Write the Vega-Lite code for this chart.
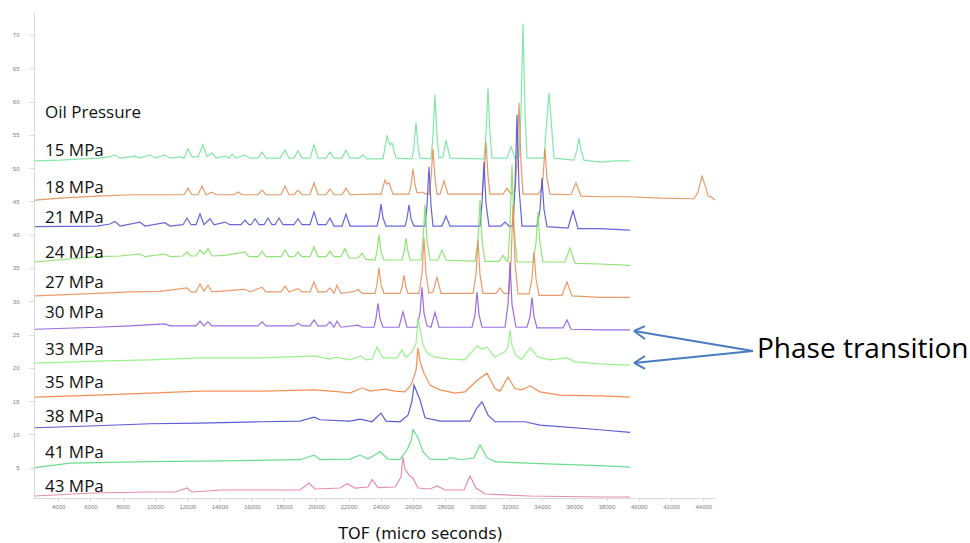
{
"$schema":"https://vega.github.io/schema/vega-lite/v6.json",
"width":681,"height":485,
"autosize":{"type":"none"},
"padding":{"left":34,"top":13,"right":255,"bottom":45},
"background":"white",
"config":{"view":{"stroke":null}},
"datasets":{
"spectra":[
{"s":"15","x":2562,"y":51.1},{"s":"15","x":4112,"y":51.2},{"s":"15","x":6406,"y":51.5},{"s":"15","x":7212,"y":51.7},{"s":"15","x":7522,"y":52.0},{"s":"15","x":7832,"y":51.5},{"s":"15","x":8762,"y":51.8},{"s":"15","x":9072,"y":51.5},{"s":"15","x":9692,"y":52.0},{"s":"15","x":10002,"y":51.5},{"s":"15","x":10622,"y":52.0},{"s":"15","x":10932,"y":51.5},{"s":"15","x":11552,"y":51.7},{"s":"15","x":11800,"y":51.5},{"s":"15","x":12048,"y":52.9},{"s":"15","x":12296,"y":51.7},{"s":"15","x":12668,"y":51.7},{"s":"15","x":12978,"y":53.5},{"s":"15","x":13226,"y":51.7},{"s":"15","x":13536,"y":52.3},{"s":"15","x":13784,"y":51.5},{"s":"15","x":14342,"y":51.8},{"s":"15","x":14590,"y":51.5},{"s":"15","x":14776,"y":52.1},{"s":"15","x":15024,"y":51.5},{"s":"15","x":15582,"y":52.0},{"s":"15","x":15892,"y":51.5},{"s":"15","x":16388,"y":51.5},{"s":"15","x":16636,"y":52.4},{"s":"15","x":16884,"y":51.5},{"s":"15","x":17752,"y":51.5},{"s":"15","x":18062,"y":52.7},{"s":"15","x":18310,"y":51.5},{"s":"15","x":18620,"y":51.5},{"s":"15","x":18868,"y":52.6},{"s":"15","x":19116,"y":51.5},{"s":"15","x":19612,"y":51.5},{"s":"15","x":19860,"y":53.5},{"s":"15","x":20108,"y":51.5},{"s":"15","x":20604,"y":51.5},{"s":"15","x":20852,"y":52.4},{"s":"15","x":21100,"y":51.5},{"s":"15","x":21596,"y":51.5},{"s":"15","x":21844,"y":52.7},{"s":"15","x":22092,"y":51.5},{"s":"15","x":22650,"y":51.5},{"s":"15","x":22898,"y":52.0},{"s":"15","x":23146,"y":51.4},{"s":"15","x":24138,"y":51.4},{"s":"15","x":24386,"y":54.8},{"s":"15","x":24572,"y":53.5},{"s":"15","x":24696,"y":53.8},{"s":"15","x":24944,"y":51.5},{"s":"15","x":25936,"y":51.4},{"s":"15","x":26184,"y":56.9},{"s":"15","x":26432,"y":51.5},{"s":"15","x":27114,"y":51.4},{"s":"15","x":27362,"y":61.0},{"s":"15","x":27610,"y":51.5},{"s":"15","x":27858,"y":51.7},{"s":"15","x":28044,"y":54.2},{"s":"15","x":28292,"y":51.5},{"s":"15","x":30400,"y":51.4},{"s":"15","x":30648,"y":62.0},{"s":"15","x":30896,"y":51.5},{"s":"15","x":31826,"y":51.5},{"s":"15","x":32074,"y":53.2},{"s":"15","x":32322,"y":51.5},{"s":"15","x":32570,"y":51.7},{"s":"15","x":32818,"y":71.7},{"s":"15","x":33066,"y":51.5},{"s":"15","x":34120,"y":51.5},{"s":"15","x":34430,"y":61.3},{"s":"15","x":34740,"y":51.5},{"s":"15","x":35980,"y":51.2},{"s":"15","x":36290,"y":54.5},{"s":"15","x":36600,"y":51.2},{"s":"15","x":37592,"y":50.9},{"s":"15","x":38522,"y":51.1},{"s":"15","x":39452,"y":51.1},
{"s":"15","x":26060,"y":53.3},{"s":"15","x":26308,"y":53.3},{"s":"15","x":27238,"y":54.8},{"s":"15","x":27486,"y":54.8},{"s":"15","x":30524,"y":55.2},{"s":"15","x":30772,"y":55.2},{"s":"15","x":32694,"y":58.6},{"s":"15","x":32942,"y":58.6},{"s":"15","x":34244,"y":55.5},{"s":"15","x":34616,"y":55.5},{"s":"15","x":36166,"y":52.7},{"s":"15","x":36414,"y":52.7},
{"s":"18","x":2562,"y":45.2},{"s":"18","x":4112,"y":45.5},{"s":"18","x":6406,"y":45.8},{"s":"18","x":8452,"y":46.0},{"s":"18","x":10312,"y":46.0},{"s":"18","x":11800,"y":46.0},{"s":"18","x":12048,"y":47.0},{"s":"18","x":12296,"y":46.0},{"s":"18","x":12668,"y":46.0},{"s":"18","x":12916,"y":47.3},{"s":"18","x":13164,"y":46.0},{"s":"18","x":13536,"y":46.4},{"s":"18","x":13784,"y":46.0},{"s":"18","x":14900,"y":46.0},{"s":"18","x":15148,"y":46.4},{"s":"18","x":15396,"y":46.0},{"s":"18","x":16388,"y":46.0},{"s":"18","x":16636,"y":46.7},{"s":"18","x":16884,"y":46.0},{"s":"18","x":17814,"y":46.0},{"s":"18","x":18062,"y":47.3},{"s":"18","x":18310,"y":46.0},{"s":"18","x":18620,"y":46.0},{"s":"18","x":18868,"y":46.7},{"s":"18","x":19116,"y":46.0},{"s":"18","x":19612,"y":46.0},{"s":"18","x":19860,"y":47.8},{"s":"18","x":20108,"y":46.0},{"s":"18","x":20604,"y":46.0},{"s":"18","x":20852,"y":46.9},{"s":"18","x":21100,"y":46.0},{"s":"18","x":21596,"y":46.0},{"s":"18","x":21844,"y":47.0},{"s":"18","x":22092,"y":46.0},{"s":"18","x":23332,"y":46.1},{"s":"18","x":24014,"y":46.1},{"s":"18","x":24262,"y":48.2},{"s":"18","x":24386,"y":47.6},{"s":"18","x":24510,"y":47.8},{"s":"18","x":24758,"y":46.1},{"s":"18","x":25750,"y":46.1},{"s":"18","x":26000,"y":49.9},{"s":"18","x":26248,"y":46.3},{"s":"18","x":26556,"y":46.4},{"s":"18","x":26804,"y":46.1},{"s":"18","x":26990,"y":46.1},{"s":"18","x":27238,"y":52.9},{"s":"18","x":27486,"y":46.1},{"s":"18","x":27672,"y":46.1},{"s":"18","x":27920,"y":48.1},{"s":"18","x":28168,"y":46.1},{"s":"18","x":30276,"y":46.1},{"s":"18","x":30524,"y":53.9},{"s":"18","x":30772,"y":46.1},{"s":"18","x":31578,"y":46.1},{"s":"18","x":31826,"y":47.0},{"s":"18","x":32074,"y":46.1},{"s":"18","x":32322,"y":46.7},{"s":"18","x":32570,"y":59.8},{"s":"18","x":32818,"y":46.1},{"s":"18","x":33748,"y":46.1},{"s":"18","x":33934,"y":46.7},{"s":"18","x":34182,"y":52.9},{"s":"18","x":34492,"y":46.1},{"s":"18","x":35794,"y":46.0},{"s":"18","x":36104,"y":47.8},{"s":"18","x":36414,"y":45.8},{"s":"18","x":37592,"y":45.7},{"s":"18","x":39452,"y":45.7},{"s":"18","x":41312,"y":45.5},{"s":"18","x":43420,"y":45.4},{"s":"18","x":43668,"y":46.4},{"s":"18","x":43916,"y":48.8},{"s":"18","x":44164,"y":47.0},{"s":"18","x":44288,"y":45.8},{"s":"18","x":44474,"y":45.7},{"s":"18","x":44722,"y":45.2},
{"s":"18","x":25876,"y":47.5},{"s":"18","x":26124,"y":47.5},{"s":"18","x":27114,"y":48.5},{"s":"18","x":27362,"y":48.5},{"s":"18","x":30400,"y":48.8},{"s":"18","x":30648,"y":48.8},{"s":"18","x":32446,"y":50.9},{"s":"18","x":32694,"y":50.9},{"s":"18","x":34058,"y":48.5},{"s":"18","x":34306,"y":48.5},
{"s":"21","x":2562,"y":41.2},{"s":"21","x":6406,"y":41.3},{"s":"21","x":7212,"y":41.6},{"s":"21","x":7522,"y":42.0},{"s":"21","x":7832,"y":41.3},{"s":"21","x":9072,"y":41.9},{"s":"21","x":9382,"y":41.3},{"s":"21","x":10622,"y":41.8},{"s":"21","x":10932,"y":41.3},{"s":"21","x":11738,"y":41.5},{"s":"21","x":11986,"y":42.5},{"s":"21","x":12234,"y":41.5},{"s":"21","x":12544,"y":41.5},{"s":"21","x":12792,"y":43.1},{"s":"21","x":13040,"y":41.5},{"s":"21","x":13412,"y":42.4},{"s":"21","x":13660,"y":41.5},{"s":"21","x":14342,"y":41.9},{"s":"21","x":14652,"y":41.5},{"s":"21","x":15334,"y":41.5},{"s":"21","x":15582,"y":42.2},{"s":"21","x":15830,"y":41.5},{"s":"21","x":15954,"y":41.5},{"s":"21","x":16202,"y":42.4},{"s":"21","x":16450,"y":41.5},{"s":"21","x":16760,"y":41.5},{"s":"21","x":17008,"y":42.5},{"s":"21","x":17256,"y":41.5},{"s":"21","x":17442,"y":41.5},{"s":"21","x":17690,"y":42.5},{"s":"21","x":17938,"y":41.5},{"s":"21","x":18620,"y":41.5},{"s":"21","x":18868,"y":42.4},{"s":"21","x":19116,"y":41.5},{"s":"21","x":19612,"y":41.5},{"s":"21","x":19860,"y":43.4},{"s":"21","x":20108,"y":41.5},{"s":"21","x":20604,"y":41.5},{"s":"21","x":20852,"y":42.5},{"s":"21","x":21100,"y":41.3},{"s":"21","x":21596,"y":41.3},{"s":"21","x":21844,"y":43.1},{"s":"21","x":22092,"y":41.3},{"s":"21","x":23766,"y":41.3},{"s":"21","x":24014,"y":44.6},{"s":"21","x":24324,"y":41.3},{"s":"21","x":25502,"y":41.3},{"s":"21","x":25750,"y":44.5},{"s":"21","x":26060,"y":41.3},{"s":"21","x":26742,"y":41.3},{"s":"21","x":26990,"y":50.2},{"s":"21","x":27238,"y":41.3},{"s":"21","x":27796,"y":41.3},{"s":"21","x":28044,"y":42.8},{"s":"21","x":28292,"y":41.3},{"s":"21","x":30152,"y":41.3},{"s":"21","x":30400,"y":50.9},{"s":"21","x":30710,"y":41.3},{"s":"21","x":31454,"y":41.3},{"s":"21","x":31702,"y":41.9},{"s":"21","x":31950,"y":41.3},{"s":"21","x":32198,"y":41.3},{"s":"21","x":32446,"y":58.0},{"s":"21","x":32756,"y":41.3},{"s":"21","x":33686,"y":41.3},{"s":"21","x":33996,"y":48.5},{"s":"21","x":34306,"y":41.2},{"s":"21","x":35608,"y":41.0},{"s":"21","x":35918,"y":43.6},{"s":"21","x":36228,"y":40.9},{"s":"21","x":37592,"y":40.9},{"s":"21","x":39452,"y":40.7},
{"s":"21","x":23890,"y":42.5},{"s":"21","x":24138,"y":42.5},{"s":"21","x":25626,"y":42.4},{"s":"21","x":25874,"y":42.4},{"s":"21","x":26866,"y":44.4},{"s":"21","x":27114,"y":44.4},{"s":"21","x":30276,"y":44.7},{"s":"21","x":30524,"y":44.7},{"s":"21","x":32322,"y":47.1},{"s":"21","x":32570,"y":47.1},{"s":"21","x":33872,"y":43.8},{"s":"21","x":34120,"y":43.8},
{"s":"24","x":2562,"y":35.9},{"s":"24","x":6406,"y":36.7},{"s":"24","x":7832,"y":36.8},{"s":"24","x":9072,"y":37.1},{"s":"24","x":9382,"y":36.7},{"s":"24","x":10622,"y":37.1},{"s":"24","x":10932,"y":36.7},{"s":"24","x":11738,"y":36.8},{"s":"24","x":11986,"y":37.4},{"s":"24","x":12234,"y":36.8},{"s":"24","x":12544,"y":36.8},{"s":"24","x":12792,"y":37.7},{"s":"24","x":13040,"y":37.1},{"s":"24","x":13288,"y":37.9},{"s":"24","x":13536,"y":36.8},{"s":"24","x":14342,"y":36.9},{"s":"24","x":15582,"y":37.4},{"s":"24","x":15830,"y":36.7},{"s":"24","x":16388,"y":36.7},{"s":"24","x":16636,"y":37.5},{"s":"24","x":16884,"y":36.7},{"s":"24","x":17814,"y":36.7},{"s":"24","x":18062,"y":37.7},{"s":"24","x":18310,"y":36.7},{"s":"24","x":18620,"y":36.7},{"s":"24","x":18868,"y":37.4},{"s":"24","x":19116,"y":36.7},{"s":"24","x":19612,"y":36.7},{"s":"24","x":19860,"y":38.2},{"s":"24","x":20108,"y":36.7},{"s":"24","x":20604,"y":36.7},{"s":"24","x":20852,"y":37.5},{"s":"24","x":21100,"y":36.7},{"s":"24","x":21534,"y":36.7},{"s":"24","x":21782,"y":37.9},{"s":"24","x":22030,"y":36.5},{"s":"24","x":22588,"y":36.5},{"s":"24","x":22836,"y":37.2},{"s":"24","x":23084,"y":36.3},{"s":"24","x":23642,"y":36.2},{"s":"24","x":23890,"y":40.0},{"s":"24","x":24200,"y":36.2},{"s":"24","x":25316,"y":36.2},{"s":"24","x":25564,"y":39.5},{"s":"24","x":25812,"y":36.2},{"s":"24","x":26494,"y":36.2},{"s":"24","x":26742,"y":44.5},{"s":"24","x":27052,"y":36.2},{"s":"24","x":27548,"y":36.2},{"s":"24","x":27796,"y":37.7},{"s":"24","x":28044,"y":36.2},{"s":"24","x":29842,"y":36.0},{"s":"24","x":30152,"y":45.2},{"s":"24","x":30462,"y":36.0},{"s":"24","x":31330,"y":36.0},{"s":"24","x":31578,"y":36.9},{"s":"24","x":31826,"y":36.0},{"s":"24","x":31888,"y":36.0},{"s":"24","x":32136,"y":50.5},{"s":"24","x":32446,"y":35.9},{"s":"24","x":33438,"y":35.9},{"s":"24","x":33748,"y":43.4},{"s":"24","x":34058,"y":35.9},{"s":"24","x":35422,"y":35.9},{"s":"24","x":35732,"y":38.0},{"s":"24","x":36042,"y":35.7},{"s":"24","x":37592,"y":35.6},{"s":"24","x":39452,"y":35.4},
{"s":"24","x":23766,"y":37.5},{"s":"24","x":24014,"y":37.5},{"s":"24","x":25440,"y":37.4},{"s":"24","x":25688,"y":37.4},{"s":"24","x":26618,"y":39.1},{"s":"24","x":26866,"y":39.1},{"s":"24","x":30028,"y":39.2},{"s":"24","x":30276,"y":39.2},{"s":"24","x":32012,"y":41.2},{"s":"24","x":32260,"y":41.2},{"s":"24","x":33624,"y":38.7},{"s":"24","x":33872,"y":38.7},
{"s":"27","x":2562,"y":30.8},{"s":"27","x":6406,"y":31.2},{"s":"27","x":8452,"y":31.4},{"s":"27","x":10312,"y":31.5},{"s":"27","x":11986,"y":32.0},{"s":"27","x":12234,"y":31.4},{"s":"27","x":12544,"y":31.4},{"s":"27","x":12792,"y":32.6},{"s":"27","x":13040,"y":31.5},{"s":"27","x":13288,"y":32.4},{"s":"27","x":13536,"y":31.4},{"s":"27","x":15582,"y":31.8},{"s":"27","x":15892,"y":31.4},{"s":"27","x":16636,"y":32.1},{"s":"27","x":16884,"y":31.4},{"s":"27","x":17814,"y":31.4},{"s":"27","x":18062,"y":32.3},{"s":"27","x":18310,"y":31.4},{"s":"27","x":18868,"y":31.9},{"s":"27","x":19116,"y":31.4},{"s":"27","x":19612,"y":31.4},{"s":"27","x":19860,"y":32.9},{"s":"27","x":20108,"y":31.4},{"s":"27","x":20604,"y":31.4},{"s":"27","x":20852,"y":32.0},{"s":"27","x":21100,"y":31.2},{"s":"27","x":21286,"y":32.4},{"s":"27","x":21534,"y":31.2},{"s":"27","x":22402,"y":31.5},{"s":"27","x":22588,"y":31.8},{"s":"27","x":22836,"y":31.2},{"s":"27","x":23642,"y":31.2},{"s":"27","x":23890,"y":35.0},{"s":"27","x":24200,"y":31.2},{"s":"27","x":25192,"y":31.2},{"s":"27","x":25440,"y":33.9},{"s":"27","x":25688,"y":31.2},{"s":"27","x":26370,"y":31.2},{"s":"27","x":26680,"y":39.5},{"s":"27","x":26990,"y":31.2},{"s":"27","x":27238,"y":31.4},{"s":"27","x":27486,"y":33.6},{"s":"27","x":27734,"y":31.2},{"s":"27","x":29718,"y":31.2},{"s":"27","x":30028,"y":39.2},{"s":"27","x":30338,"y":31.2},{"s":"27","x":31144,"y":31.2},{"s":"27","x":31392,"y":32.0},{"s":"27","x":31640,"y":31.2},{"s":"27","x":31950,"y":31.2},{"s":"27","x":32198,"y":44.5},{"s":"27","x":32508,"y":31.1},{"s":"27","x":33190,"y":31.1},{"s":"27","x":33500,"y":37.4},{"s":"27","x":33810,"y":30.9},{"s":"27","x":35236,"y":30.9},{"s":"27","x":35546,"y":32.9},{"s":"27","x":35856,"y":30.8},{"s":"27","x":37592,"y":30.6},{"s":"27","x":39452,"y":30.6},
{"s":"27","x":23766,"y":32.5},{"s":"27","x":24014,"y":32.5},{"s":"27","x":25316,"y":32.1},{"s":"27","x":25564,"y":32.1},{"s":"27","x":26556,"y":34.1},{"s":"27","x":26804,"y":34.1},{"s":"27","x":29904,"y":34.0},{"s":"27","x":30152,"y":34.0},{"s":"27","x":32074,"y":35.9},{"s":"27","x":32322,"y":35.9},{"s":"27","x":33376,"y":33.4},{"s":"27","x":33624,"y":33.4},
{"s":"30","x":2562,"y":25.8},{"s":"30","x":6406,"y":26.1},{"s":"30","x":8452,"y":26.3},{"s":"30","x":10622,"y":26.6},{"s":"30","x":10932,"y":26.3},{"s":"30","x":12544,"y":26.3},{"s":"30","x":12792,"y":27.0},{"s":"30","x":13040,"y":26.3},{"s":"30","x":13288,"y":26.9},{"s":"30","x":13536,"y":26.3},{"s":"30","x":16388,"y":26.3},{"s":"30","x":16636,"y":26.9},{"s":"30","x":16884,"y":26.3},{"s":"30","x":18620,"y":26.3},{"s":"30","x":18868,"y":26.7},{"s":"30","x":19116,"y":26.3},{"s":"30","x":19612,"y":26.3},{"s":"30","x":19860,"y":27.2},{"s":"30","x":20108,"y":26.3},{"s":"30","x":20604,"y":26.3},{"s":"30","x":20852,"y":26.9},{"s":"30","x":21100,"y":26.1},{"s":"30","x":21286,"y":27.0},{"s":"30","x":21534,"y":26.1},{"s":"30","x":22588,"y":26.4},{"s":"30","x":22836,"y":26.1},{"s":"30","x":23580,"y":26.1},{"s":"30","x":23828,"y":29.7},{"s":"30","x":24138,"y":26.1},{"s":"30","x":25130,"y":26.1},{"s":"30","x":25378,"y":28.4},{"s":"30","x":25626,"y":26.1},{"s":"30","x":26246,"y":26.1},{"s":"30","x":26556,"y":32.1},{"s":"30","x":26866,"y":26.3},{"s":"30","x":27114,"y":26.1},{"s":"30","x":27362,"y":28.3},{"s":"30","x":27610,"y":26.1},{"s":"30","x":29656,"y":26.1},{"s":"30","x":29966,"y":31.4},{"s":"30","x":30276,"y":26.1},{"s":"30","x":31702,"y":26.1},{"s":"30","x":32012,"y":35.9},{"s":"30","x":32384,"y":26.1},{"s":"30","x":33066,"y":26.1},{"s":"30","x":33376,"y":30.6},{"s":"30","x":33686,"y":26.0},{"s":"30","x":35298,"y":26.0},{"s":"30","x":35546,"y":27.2},{"s":"30","x":35794,"y":25.8},{"s":"30","x":37592,"y":25.7},{"s":"30","x":39452,"y":25.7},
{"s":"30","x":23704,"y":27.4},{"s":"30","x":23952,"y":27.4},{"s":"30","x":26432,"y":28.2},{"s":"30","x":26680,"y":28.2},{"s":"30","x":29842,"y":28.0},{"s":"30","x":30090,"y":28.0},{"s":"30","x":31888,"y":29.5},{"s":"30","x":32136,"y":29.5},{"s":"30","x":33252,"y":27.7},{"s":"30","x":33500,"y":27.7},
{"s":"33","x":2562,"y":20.7},{"s":"33","x":6406,"y":21.0},{"s":"33","x":9692,"y":21.2},{"s":"33","x":12792,"y":21.5},{"s":"33","x":16636,"y":21.5},{"s":"33","x":19860,"y":21.8},{"s":"33","x":20852,"y":21.3},{"s":"33","x":21224,"y":21.6},{"s":"33","x":22092,"y":21.2},{"s":"33","x":22774,"y":21.8},{"s":"33","x":23084,"y":21.2},{"s":"33","x":23456,"y":21.3},{"s":"33","x":23766,"y":23.1},{"s":"33","x":24138,"y":21.5},{"s":"33","x":25006,"y":21.5},{"s":"33","x":25316,"y":22.7},{"s":"33","x":25564,"y":21.6},{"s":"33","x":25936,"y":22.4},{"s":"33","x":26184,"y":23.6},{"s":"33","x":26308,"y":27.5},{"s":"33","x":26618,"y":23.4},{"s":"33","x":26928,"y":22.1},{"s":"33","x":27362,"y":21.6},{"s":"33","x":28292,"y":21.3},{"s":"33","x":29222,"y":21.2},{"s":"33","x":29966,"y":23.3},{"s":"33","x":30276,"y":22.8},{"s":"33","x":30586,"y":23.1},{"s":"33","x":31082,"y":21.6},{"s":"33","x":31702,"y":22.4},{"s":"33","x":31888,"y":23.2},{"s":"33","x":32012,"y":25.7},{"s":"33","x":32136,"y":23.4},{"s":"33","x":32384,"y":21.8},{"s":"33","x":32756,"y":21.3},{"s":"33","x":33252,"y":23.0},{"s":"33","x":33748,"y":21.6},{"s":"33","x":34492,"y":21.2},{"s":"33","x":35546,"y":21.5},{"s":"33","x":36042,"y":20.9},{"s":"33","x":37592,"y":20.6},{"s":"33","x":39452,"y":20.4},
{"s":"35","x":2562,"y":15.6},{"s":"35","x":6406,"y":15.9},{"s":"35","x":9692,"y":16.2},{"s":"35","x":12792,"y":16.5},{"s":"35","x":16636,"y":16.5},{"s":"35","x":19860,"y":16.7},{"s":"35","x":21472,"y":16.4},{"s":"35","x":22092,"y":16.2},{"s":"35","x":22836,"y":17.0},{"s":"35","x":23332,"y":16.5},{"s":"35","x":24262,"y":16.8},{"s":"35","x":24882,"y":16.5},{"s":"35","x":25502,"y":16.4},{"s":"35","x":25874,"y":17.4},{"s":"35","x":26184,"y":19.6},{"s":"35","x":26308,"y":23.0},{"s":"35","x":26432,"y":21.0},{"s":"35","x":26680,"y":19.2},{"s":"35","x":27052,"y":17.4},{"s":"35","x":27672,"y":16.7},{"s":"35","x":28602,"y":16.2},{"s":"35","x":29222,"y":16.4},{"s":"35","x":30028,"y":18.2},{"s":"35","x":30586,"y":19.2},{"s":"35","x":31082,"y":16.9},{"s":"35","x":31392,"y":16.5},{"s":"35","x":31888,"y":18.6},{"s":"35","x":32322,"y":16.9},{"s":"35","x":32756,"y":16.7},{"s":"35","x":33252,"y":17.3},{"s":"35","x":33872,"y":16.4},{"s":"35","x":35112,"y":15.9},{"s":"35","x":37592,"y":15.8},{"s":"35","x":39452,"y":15.6},
{"s":"38","x":2562,"y":11.0},{"s":"38","x":6406,"y":11.3},{"s":"38","x":9692,"y":11.6},{"s":"38","x":12792,"y":11.7},{"s":"38","x":16636,"y":11.9},{"s":"38","x":18992,"y":12.0},{"s":"38","x":19860,"y":12.6},{"s":"38","x":20232,"y":12.2},{"s":"38","x":22092,"y":12.0},{"s":"38","x":22712,"y":12.3},{"s":"38","x":23456,"y":11.9},{"s":"38","x":24014,"y":13.2},{"s":"38","x":24324,"y":12.0},{"s":"38","x":25192,"y":11.9},{"s":"38","x":25688,"y":12.9},{"s":"38","x":25936,"y":15.0},{"s":"38","x":26060,"y":17.4},{"s":"38","x":26432,"y":15.2},{"s":"38","x":26742,"y":12.5},{"s":"38","x":27672,"y":12.0},{"s":"38","x":29532,"y":12.0},{"s":"38","x":29966,"y":14.0},{"s":"38","x":30276,"y":14.9},{"s":"38","x":30648,"y":12.9},{"s":"38","x":31082,"y":11.9},{"s":"38","x":32942,"y":11.9},{"s":"38","x":33872,"y":11.4},{"s":"38","x":37592,"y":10.7},{"s":"38","x":39452,"y":10.3},
{"s":"41","x":2562,"y":5.0},{"s":"41","x":4732,"y":5.7},{"s":"41","x":9692,"y":5.9},{"s":"41","x":12792,"y":6.0},{"s":"41","x":18992,"y":6.2},{"s":"41","x":19860,"y":6.9},{"s":"41","x":20232,"y":6.2},{"s":"41","x":22092,"y":6.3},{"s":"41","x":22712,"y":6.9},{"s":"41","x":23208,"y":6.3},{"s":"41","x":23952,"y":7.4},{"s":"41","x":24448,"y":6.3},{"s":"41","x":25192,"y":6.2},{"s":"41","x":25626,"y":7.7},{"s":"41","x":25874,"y":9.0},{"s":"41","x":26000,"y":10.7},{"s":"41","x":26308,"y":9.5},{"s":"41","x":26618,"y":7.4},{"s":"41","x":27052,"y":6.3},{"s":"41","x":28044,"y":6.2},{"s":"41","x":28292,"y":6.5},{"s":"41","x":29036,"y":6.2},{"s":"41","x":29780,"y":6.5},{"s":"41","x":30152,"y":8.4},{"s":"41","x":30586,"y":6.5},{"s":"41","x":31082,"y":5.9},{"s":"41","x":33872,"y":5.6},{"s":"41","x":37592,"y":5.3},{"s":"41","x":39452,"y":5.1},
{"s":"43","x":2562,"y":0.75},{"s":"43","x":6096,"y":1.2},{"s":"43","x":9692,"y":1.35},{"s":"43","x":11242,"y":1.35},{"s":"43","x":11986,"y":1.95},{"s":"43","x":12296,"y":1.35},{"s":"43","x":14156,"y":1.65},{"s":"43","x":18992,"y":1.65},{"s":"43","x":19550,"y":2.7},{"s":"43","x":19922,"y":1.8},{"s":"43","x":21472,"y":1.95},{"s":"43","x":21906,"y":2.6},{"s":"43","x":22402,"y":1.95},{"s":"43","x":23208,"y":2.1},{"s":"43","x":23456,"y":3.2},{"s":"43","x":23828,"y":2.0},{"s":"43","x":24882,"y":2.1},{"s":"43","x":25254,"y":3.6},{"s":"43","x":25378,"y":6.6},{"s":"43","x":25502,"y":4.8},{"s":"43","x":25750,"y":3.9},{"s":"43","x":26000,"y":3.4},{"s":"43","x":26308,"y":1.95},{"s":"43","x":27052,"y":1.8},{"s":"43","x":27490,"y":2.25},{"s":"43","x":27982,"y":1.65},{"s":"43","x":29160,"y":1.65},{"s":"43","x":29530,"y":3.75},{"s":"43","x":29904,"y":1.95},{"s":"43","x":30462,"y":1.05},{"s":"43","x":33252,"y":0.75},{"s":"43","x":37592,"y":0.6},{"s":"43","x":39452,"y":0.6}
],
"labels":[
{"t":"Oil Pressure","x":3182,"y":58.3},
{"t":"15 MPa","x":3182,"y":52.5},
{"t":"18 MPa","x":3182,"y":47.06},
{"t":"21 MPa","x":3182,"y":42.55},
{"t":"24 MPa","x":3182,"y":37.3},
{"t":"27 MPa","x":3182,"y":32.75},
{"t":"30 MPa","x":3182,"y":28.24},
{"t":"33 MPa","x":3182,"y":22.68},
{"t":"35 MPa","x":3182,"y":17.72},
{"t":"38 MPa","x":3182,"y":12.62},
{"t":"41 MPa","x":3182,"y":7.21},
{"t":"43 MPa","x":3182,"y":2.1}
],
"arrows":[
{"x":47078,"y":22.53,"x2":39700,"y2":25.53},
{"x":47078,"y":22.53,"x2":39700,"y2":20.73},
{"x":39700,"y":25.53,"x2":40382,"y2":26.28},
{"x":39700,"y":25.53,"x2":40382,"y2":24.33},
{"x":39700,"y":20.73,"x2":40382,"y2":21.78},
{"x":39700,"y":20.73,"x2":40382,"y2":19.83}
],
"note":[{"t":"Phase transition","x":47326,"y":22.68}]
},
"encoding":{
"x":{"field":"x","type":"quantitative","scale":{"domain":[2500,44722],"nice":false,"zero":false},
"axis":{"title":"TOF (micro seconds)","values":[4000,6000,8000,10000,12000,14000,16000,18000,20000,22000,24000,26000,28000,30000,32000,34000,36000,38000,40000,42000,44000],"format":"d","grid":false,"labelFont":"Liberation Sans","labelFontSize":6,"labelColor":"#808080","domainColor":"#d9d9d9","tickColor":"#d9d9d9","tickSize":3,"labelPadding":2,"titleFont":"DejaVu Sans","titleFontSize":16,"titleFontWeight":"normal","titleColor":"#111111","titleX":386,"titleY":35,"titleBaseline":"middle","titleAnchor":"middle"}},
"y":{"field":"y","type":"quantitative","scale":{"domain":[0.45,73.3],"nice":false,"zero":false},
"axis":{"title":null,"values":[5,10,15,20,25,30,35,40,45,50,55,60,65,70],"grid":false,"labelFont":"Liberation Sans","labelFontSize":6,"labelColor":"#808080","domainColor":"#d9d9d9","tickColor":"#d9d9d9","tickSize":5,"labelPadding":10}}
},
"layer":[
{"data":{"name":"spectra"},"mark":{"type":"line","strokeWidth":1.2,"opacity":0.85},
"encoding":{"color":{"field":"s","type":"nominal","legend":null,"scale":{"domain":["15","18","21","24","27","30","33","35","38","41","43"],"range":["#6fe39a","#e0894c","#4b4bd6","#7ddf5a","#e8894f","#8b55dd","#88f07a","#f27b3a","#3f3fd0","#4dd878","#e07a98"]}}}},
{"data":{"name":"labels"},"mark":{"type":"text","align":"left","baseline":"middle","font":"Open Sans","fontSize":17,"color":"#111111"},"encoding":{"text":{"field":"t"}}},
{"data":{"name":"arrows"},"mark":{"type":"rule","color":"#4a7cc0","strokeWidth":2},"encoding":{"x2":{"field":"x2"},"y2":{"field":"y2"}}},
{"data":{"name":"note"},"mark":{"type":"text","align":"left","baseline":"middle","font":"Open Sans","fontSize":28,"color":"#000000"},"encoding":{"text":{"field":"t"}}}
]
}
